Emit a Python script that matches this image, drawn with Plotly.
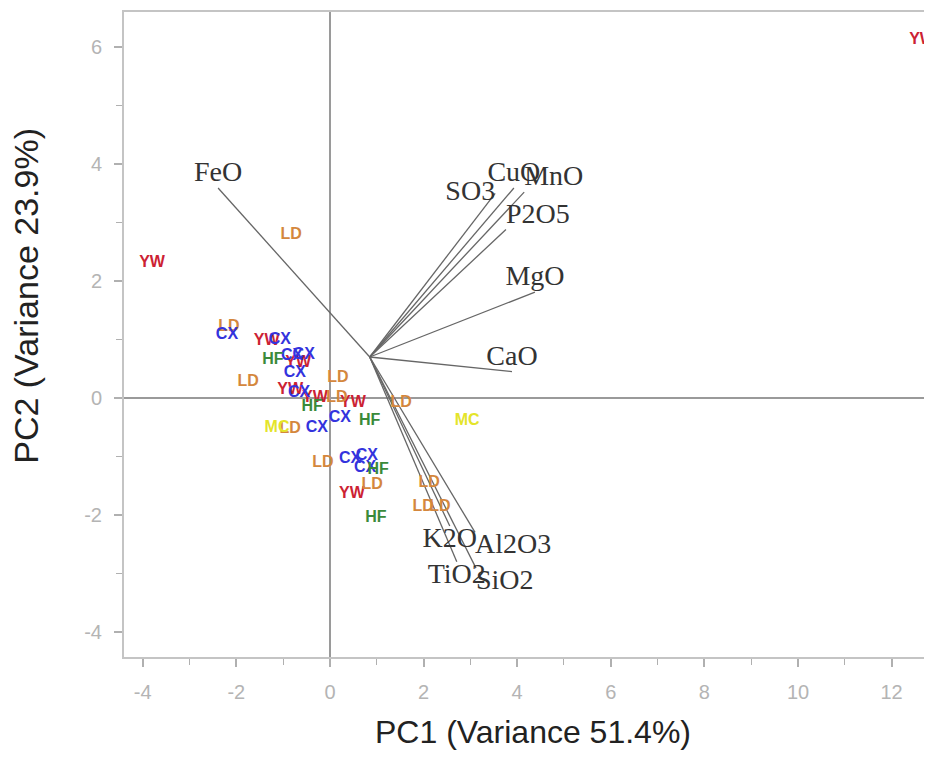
import plotly.graph_objects as go

# ---- sample scores (PC1, PC2) by group ----
yw_x = [12.65, -3.80, -1.35, -0.68, -0.85, -0.32, 0.49, 0.47]
yw_y = [6.12, 2.31, 0.97, 0.60, 0.14, 0.00, -0.09, -1.64]

ld_x = [-0.83, -2.16, -1.75, 0.17, 0.15, -0.85, 1.52, -0.15, 0.90, 2.12, 1.99, 2.35]
ld_y = [2.79, 1.21, 0.27, 0.34, 0.00, -0.53, -0.09, -1.11, -1.49, -1.45, -1.86, -1.86]

cx_x = [-2.20, -1.07, -0.81, -0.56, -0.75, -0.66, 0.21, -0.28, 0.43, 0.79, 0.75]
cx_y = [1.08, 0.99, 0.72, 0.74, 0.43, 0.09, -0.34, -0.51, -1.04, -0.99, -1.20]

hf_x = [-1.22, -0.38, 0.85, 1.03, 0.98]
hf_y = [0.65, -0.15, -0.39, -1.23, -2.05]

mc_x = [2.93, -1.13]
mc_y = [-0.39, -0.51]

groups = ["YW", "LD", "CX", "HF", "MC"]
group_x = [yw_x, ld_x, cx_x, hf_x, mc_x]
group_y = [yw_y, ld_y, cx_y, hf_y, mc_y]
group_colors = ["#cc2233", "#d4873d", "#3333dd", "#3a8a3a", "#e4e42a"]

# ---- loadings (arrow ends), arrows start at a common origin ----
origin_x = 0.85
origin_y = 0.70
load_names = ["FeO", "CuO", "SO3", "MnO", "P2O5", "MgO", "CaO", "K2O", "Al2O3", "TiO2", "SiO2"]
load_x = [-2.39, 3.93, 3.53, 4.15, 3.76, 4.38, 3.89, 2.56, 3.10, 2.71, 3.12]
load_y = [3.59, 3.59, 3.50, 3.52, 2.88, 1.81, 0.45, -2.19, -2.30, -2.80, -2.91]
load_textpos = ["top center", "top center", "middle left", "top right", "top right",
                "top center", "top center", "bottom center", "bottom right",
                "bottom center", "bottom right"]

x_ticks = [-4, -2, 0, 2, 4, 6, 8, 10, 12]
y_ticks = [-4, -2, 0, 2, 4, 6]

SANS = "Liberation Sans, Arial, sans-serif"

fig = go.Figure()

# loading lines
lx, ly = [], []
for ex, ey in zip(load_x, load_y):
    lx += [origin_x, ex, None]
    ly += [origin_y, ey, None]
fig.add_trace(go.Scatter(x=lx, y=ly, mode="lines",
                         line=dict(color="#666666", width=1.3),
                         hoverinfo="skip", showlegend=False))

# sample labels
for g, xs, ys, c in zip(groups, group_x, group_y, group_colors):
    fig.add_trace(go.Scatter(x=xs, y=ys, mode="text", text=[g] * len(xs),
                             textfont=dict(family=SANS, size=16, color=c, weight="bold"),
                             cliponaxis=True, showlegend=False, name=g))

# loading labels
fig.add_trace(go.Scatter(x=load_x, y=load_y, mode="text", text=load_names,
                         textposition=load_textpos,
                         textfont=dict(family="Liberation Serif, Times New Roman, serif",
                                       size=28, color="#333333"),
                         showlegend=False))

axis_common = dict(
    showgrid=False, showline=True, mirror=True, linecolor="#c4c4c4", linewidth=2,
    ticks="outside", ticklen=8, tickcolor="#b0b0b0", tickwidth=1.5,
    zeroline=True, zerolinecolor="#9a9a9a", zerolinewidth=1.5,
    tickfont=dict(family=SANS, size=20, color="#b4b4b4"),
    minor=dict(dtick=1, ticks="outside", ticklen=6, tickcolor="#b0b0b0", tickwidth=1.2),
    automargin=False,
)

fig.update_xaxes(range=[-4.40, 12.82], tickvals=x_ticks,
                 ticktext=[str(v) for v in x_ticks], ticklabelstandoff=8,
                 **axis_common)
fig.update_yaxes(range=[-4.43, 6.60], tickvals=y_ticks,
                 ticktext=[str(v) for v in y_ticks], ticklabelstandoff=8,
                 **axis_common)

fig.update_layout(
    width=924, height=744, plot_bgcolor="white", paper_bgcolor="white",
    margin=dict(l=116, r=2, t=4, b=95),
    annotations=[
        dict(text="PC1 (Variance 51.4%)", xref="paper", yref="paper",
             x=0.507, y=-0.117, xanchor="center", yanchor="middle", showarrow=False,
             font=dict(family=SANS, size=32, color="#222222")),
        dict(text="PC2 (Variance 23.9%)", xref="paper", yref="paper",
             x=-0.1216, y=0.56, xanchor="center", yanchor="middle", showarrow=False,
             textangle=-90, font=dict(family=SANS, size=34, color="#222222")),
    ],
)

fig.write_html("out.html")
